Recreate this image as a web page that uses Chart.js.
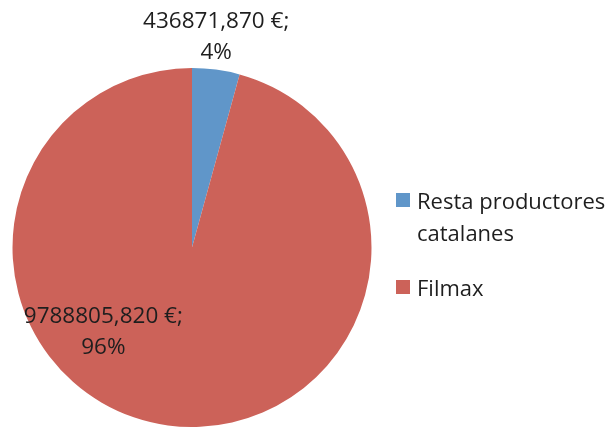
<!DOCTYPE html>
<html>
<head>
<meta charset="utf-8">
<script src="https://cdn.jsdelivr.net/npm/chart.js@4/dist/chart.umd.min.js"></script>
<style>
  body { margin: 0; background: #fff; }
  #wrap { width: 616px; height: 427px; }
</style>
</head>
<body>
<div id="wrap"><canvas id="pieChart" width="616" height="427"></canvas></div>
<script>
// datos del gráfico
const categories = ['Resta productores catalanes', 'Filmax'];
const importes = [436871.870, 9788805.820];
const colores = ['#6096c9', '#cc6259'];

const FONT = '"Open Sans", "Noto Sans", sans-serif';
const TEXT_COLOR = '#1e1e1e';

// formato tipo Excel: 436871,870 €
function fmtEuro(v) {
    return v.toFixed(3).replace('.', ',') + ' €;';
}

// etiquetas de datos + leyenda dibujadas a mano
const labelsPlugin = {
    id: 'pieLabels',
    afterDraw(chart) {
        const ctx = chart.ctx;
        const meta = chart.getDatasetMeta(0);
        const data = chart.data.datasets[0].data;
        const total = data.reduce((a, b) => a + b, 0);

        ctx.save();
        ctx.font = '22.5px ' + FONT;
        ctx.fillStyle = TEXT_COLOR;
        ctx.textAlign = 'center';
        ctx.textBaseline = 'middle';

        meta.data.forEach((arc, i) => {
            const p = arc.getProps(['x', 'y', 'startAngle', 'endAngle', 'outerRadius'], true);
            let ang, r;
            if (i === 0) {
                // fuera de la porción pequeña
                ang = (p.startAngle + p.endAngle) / 2 - 0.02;
                r = p.outerRadius + 33;
            } else {
                ang = 136.6 * Math.PI / 180;
                r = p.outerRadius * 0.68;
            }
            const x = p.x + Math.cos(ang) * r;
            const y = p.y + Math.sin(ang) * r;
            const pct = Math.round(data[i] / total * 100) + '%';
            ctx.fillText(fmtEuro(data[i]), x, y - 15);
            ctx.fillText(pct, x, y + 16);
        });

        // leyenda
        ctx.font = '22px ' + FONT;
        ctx.textAlign = 'left';
        const lx = 396, textX = 417, maxW = 200;
        let y = 203;
        categories.forEach((cat, i) => {
            // partir el texto en líneas
            const words = cat.split(' ');
            const lines = [];
            let cur = '';
            words.forEach(w => {
                const test = cur ? cur + ' ' + w : w;
                if (ctx.measureText(test).width > maxW && cur) {
                    lines.push(cur);
                    cur = w;
                } else cur = test;
            });
            lines.push(cur);

            ctx.fillStyle = colores[i];
            ctx.fillRect(lx, y - 10, 14, 14);
            ctx.fillStyle = TEXT_COLOR;
            lines.forEach((ln, k) => ctx.fillText(ln, textX, y + k * 32));
            y += lines.length * 32 + 23;
        });
        ctx.restore();
    }
};

const ctx = document.getElementById('pieChart').getContext('2d');
new Chart(ctx, {
    type: 'pie',
    data: {
        labels: categories,
        datasets: [{
            data: importes,
            backgroundColor: colores,
            borderWidth: 0
        }]
    },
    options: {
        responsive: false,
        animation: false,
        layout: { padding: { left: 12, top: 68, right: 244, bottom: 0 } },
        plugins: {
            legend: { display: false },
            tooltip: { enabled: false }
        }
    },
    plugins: [labelsPlugin]
});
</script>
</body>
</html>
